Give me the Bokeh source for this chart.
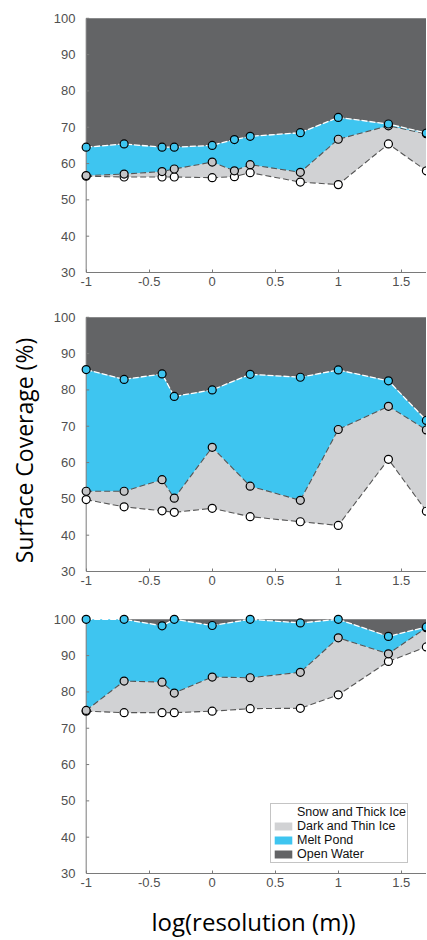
import numpy as np
from bokeh.plotting import figure
from bokeh.layouts import column, row
from bokeh.models import Range1d, FixedTicker, Legend, LegendItem, Label, ColumnDataSource
from bokeh.embed import file_html
from bokeh.resources import INLINE

# ---------------- data ----------------
res_p1 = [0.1, 0.2, 0.4, 0.5, 1, 1.5, 2, 5, 10, 25, 50]
res_p23 = [0.1, 0.2, 0.4, 0.5, 1, 2, 5, 10, 25, 50]

# cumulative boundaries (%): snow/thick ice, + dark/thin ice, + melt pond
p1_snow = [56.5, 56.3, 56.3, 56.3, 56.1, 56.4, 57.5, 54.9, 54.2, 65.4, 58.0]
p1_dark = [56.7, 57.1, 57.8, 58.5, 60.4, 58.0, 59.7, 57.6, 66.7, 70.4, 68.2]
p1_pond = [64.5, 65.4, 64.5, 64.5, 65.0, 66.6, 67.5, 68.5, 72.7, 70.9, 68.4]

p2_snow = [49.8, 47.8, 46.7, 46.3, 47.4, 45.1, 43.7, 42.7, 60.9, 46.6]
p2_dark = [52.1, 52.1, 55.3, 50.2, 64.2, 53.5, 49.6, 69.1, 75.5, 69.0]
p2_pond = [85.6, 82.9, 84.4, 78.2, 80.0, 84.3, 83.5, 85.5, 82.5, 71.6]

p3_snow = [74.7, 74.3, 74.3, 74.3, 74.7, 75.4, 75.5, 79.2, 88.4, 92.4]
p3_dark = [74.9, 83.0, 82.7, 79.7, 84.1, 83.9, 85.4, 94.9, 90.5, 97.7]
p3_pond = [100, 100, 98.2, 100, 98.3, 100, 99.0, 100, 95.3, 97.9]

x_ticks = [-1, -0.5, 0, 0.5, 1, 1.5]
x_tick_labels = ["-1", "-0.5", "0", "0.5", "1", "1.5"]
y_ticks = [30, 40, 50, 60, 70, 80, 90, 100]

legend_labels = ["Snow and Thick Ice", "Dark and Thin Ice", "Melt Pond", "Open Water"]
x_title = "log(resolution (m))"
y_title = "Surface Coverage (%)"

C_WHITE = "#FFFFFF"
C_LIGHT = "#D1D2D4"
C_BLUE = "#3EC5F0"
C_DARK = "#636466"
C_MARK_MID = "#C4C5C7"
AXIS_C = "#7A7A7A"
TICK_LBL_C = "#505050"

YLAB_W = 40
FRAME_W = 346
FRAME_H = 260
LEFT_B = 80 - YLAB_W


def panel(res, snow, dark, pond, top_b, bot_b, legend=False, xlabel=None):
    x = np.log10(np.array(res, dtype=float))
    src = ColumnDataSource(dict(x=x, snow=snow, dark=dark, pond=pond,
                                base=[y_ticks[0]] * len(x), full=[y_ticks[-1]] * len(x)))
    p = figure(width=LEFT_B + FRAME_W, height=top_b + FRAME_H + bot_b,
               x_range=Range1d(-1.045, 1.7), y_range=Range1d(30, 101.6),
               output_backend="svg", toolbar_location=None,
               min_border_left=LEFT_B, min_border_right=0,
               min_border_top=top_b, min_border_bottom=bot_b)
    p.outline_line_color = None
    p.grid.visible = False
    p.background_fill_color = "white"

    r_w = p.varea(x="x", y1="base", y2="snow", source=src, fill_color=C_WHITE)
    r_l = p.varea(x="x", y1="snow", y2="dark", source=src, fill_color=C_LIGHT)
    r_b = p.varea(x="x", y1="dark", y2="pond", source=src, fill_color=C_BLUE)
    r_d = p.varea(x="x", y1="pond", y2="full", source=src, fill_color=C_DARK)

    # y axis line at x = -1 and inward ticks
    p.segment(x0=[x_ticks[0]], y0=[y_ticks[0]], x1=[x_ticks[0]], y1=[y_ticks[-1]],
              line_color=AXIS_C, line_width=1)
    p.ray(x=[x_ticks[0]] * len(y_ticks), y=y_ticks, length=3, length_units="screen",
          angle=0, line_color=AXIS_C, line_width=1)

    p.line(x="x", y="snow", source=src, line_color="#555555", line_width=1.1,
           line_dash="6 3")
    p.line(x="x", y="dark", source=src, line_color="#555555", line_width=1.1,
           line_dash="6 3")
    p.line(x="x", y="pond", source=src, line_color="white", line_width=1.3,
           line_dash="6 2")

    p.scatter(x="x", y="snow", source=src, size=8, fill_color="white",
              line_color="black", line_width=1.2)
    p.scatter(x="x", y="dark", source=src, size=8, fill_color=C_MARK_MID,
              line_color="black", line_width=1.2)
    p.scatter(x="x", y="pond", source=src, size=8, fill_color=C_BLUE,
              line_color="black", line_width=1.2)

    for ax in (p.xaxis[0], p.yaxis[0]):
        ax.axis_line_color = AXIS_C
        ax.axis_line_width = 1
        ax.major_tick_line_color = AXIS_C
        ax.major_tick_in = 3
        ax.major_tick_out = 0
        ax.minor_tick_line_color = None
        ax.major_label_text_font = "Liberation Sans"
        ax.major_label_text_font_size = "13px"
        ax.major_label_text_color = TICK_LBL_C

    p.xaxis.ticker = FixedTicker(ticks=x_ticks)
    p.xaxis.major_label_overrides = dict(zip(x_ticks, x_tick_labels))
    p.xaxis.bounds = (-1, 1.7)
    p.xaxis.major_label_standoff = 4
    p.yaxis.ticker = FixedTicker(ticks=y_ticks)
    p.yaxis.major_label_overrides = {t: str(t) for t in y_ticks}
    p.yaxis.axis_line_color = None
    p.yaxis.major_tick_line_color = None
    p.yaxis.major_label_standoff = 5

    if xlabel:
        p.xaxis.axis_label = xlabel
        p.xaxis.axis_label_text_font = "Open Sans"
        p.xaxis.axis_label_text_font_size = "24px"
        p.xaxis.axis_label_text_font_style = "normal"
        p.xaxis.axis_label_text_color = "black"
        p.xaxis.axis_label_standoff = 15

    if legend:
        items = [LegendItem(label=lbl, renderers=[r])
                 for lbl, r in zip(legend_labels, [r_w, r_l, r_b, r_d])]
        lg = Legend(items=items, location=(190, 10))
        lg.label_text_font = "Liberation Sans"
        lg.label_text_font_size = "12.5px"
        lg.label_text_color = "#111111"
        lg.label_height = 12
        lg.label_standoff = 3
        lg.glyph_width = 22
        lg.glyph_height = 10
        lg.spacing = 0
        lg.padding = 1
        lg.margin = 0
        lg.border_line_color = "#8A8A8A"
        lg.border_line_width = 1
        lg.background_fill_alpha = 1
        p.add_layout(lg)
    return p


f1 = panel(res_p1, p1_snow, p1_dark, p1_pond, top_b=12, bot_b=28)
f2 = panel(res_p23, p2_snow, p2_dark, p2_pond, top_b=11, bot_b=24)
f3 = panel(res_p23, p3_snow, p3_dark, p3_pond, top_b=18,
           bot_b=940 - (f1.height + f2.height) - 18 - FRAME_H,
           legend=True, xlabel=x_title)

col = column(f1, f2, f3, spacing=0)
total_h = f1.height + f2.height + f3.height

ylab = figure(width=YLAB_W, height=total_h, x_range=Range1d(0, YLAB_W),
              y_range=Range1d(0, total_h), x_axis_location=None, y_axis_location=None,
              output_backend="svg", toolbar_location=None,
              min_border_left=0, min_border_right=0,
              min_border_top=0, min_border_bottom=0)
ylab.grid.visible = False
ylab.outline_line_color = None
ylab.add_layout(Label(x=23, y=total_h - 450, text=y_title,
                      text_font="Open Sans", text_font_size="23px",
                      text_color="black", text_align="center",
                      text_baseline="middle", angle=np.pi / 2))

layout = row(ylab, col, spacing=0)

with open("out.html", "w") as fh:
    fh.write(file_html(layout, INLINE))
